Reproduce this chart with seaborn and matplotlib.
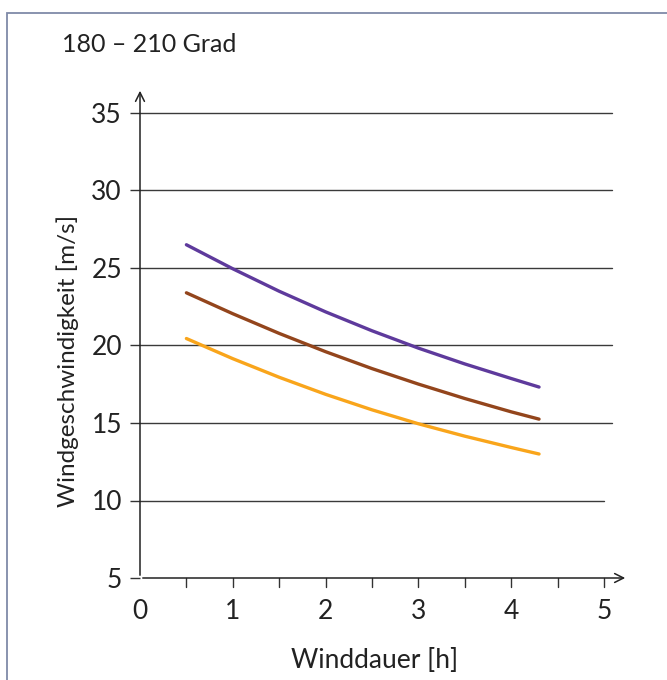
import matplotlib
matplotlib.use("Agg")
import matplotlib.pyplot as plt
import seaborn as sns
import pandas as pd
from matplotlib.patches import Rectangle

# ---- data ----
hours = [0.5, 1.0, 1.5, 2.0, 2.5, 3.0, 3.5, 4.0, 4.3]
purple = [26.5, 24.95, 23.5, 22.17, 20.95, 19.83, 18.81, 17.87, 17.32]
brown = [23.4, 22.05, 20.78, 19.6, 18.51, 17.51, 16.58, 15.72, 15.25]
orange = [20.45, 19.15, 17.95, 16.85, 15.85, 14.95, 14.15, 13.42, 13.0]
series_names = ["violett", "braun", "orange"]
colors = ["#5E3A9C", "#93451C", "#F9A51B"]
y_ticks = [5, 10, 15, 20, 25, 30, 35]
x_ticks = [0, 1, 2, 3, 4, 5]
x_half_ticks = [0.5, 1, 1.5, 2, 2.5, 3, 3.5, 4, 4.5, 5]
title = "180 – 210 Grad"
xlabel = "Winddauer [h]"
ylabel = "Windgeschwindigkeit [m/s]"

df = pd.DataFrame({
    "Winddauer": hours * 3,
    "Wind": purple + brown + orange,
    "Serie": [series_names[0]] * len(hours) + [series_names[1]] * len(hours) + [series_names[2]] * len(hours),
})

sns.set_theme(style="white")
plt.rcParams["font.family"] = ["Lato", "DejaVu Sans"]

W, H = 667, 680
fig = plt.figure(figsize=(W / 100, H / 100), dpi=100)

# frame
fig.patches.append(Rectangle((7 / W, -0.01), 1.0, (H - 13) / H + 0.01, transform=fig.transFigure,
                             fill=False, edgecolor="#7F8AA8", linewidth=1.3))

ax_left, ax_right = 140, 628
ax_bottom, ax_top = 578, 88
ax = fig.add_axes([ax_left / W, (H - ax_bottom) / H, (ax_right - ax_left) / W, (ax_bottom - ax_top) / H])

x0_px, x5_px = 140, 604
y5_px, y35_px = 578, 113
xmax = (ax_right - x0_px) / ((x5_px - x0_px) / 5)
ymax = 5 + (y5_px - ax_top) / ((y5_px - y35_px) / 30)
ax.set_xlim(0, xmax)
ax.set_ylim(5, ymax)

# gridlines
for y in y_ticks[1:]:
    end_px = 604 if y == 10 else 612
    ax.axhline(y, xmin=0, xmax=(end_px - ax_left) / (ax_right - ax_left), color="#3a3a3a", lw=1.0, zorder=1)

sns.lineplot(data=df, x="Winddauer", y="Wind", hue="Serie", palette=colors, linewidth=2.4,
             legend=False, ax=ax, zorder=3)

for s in ["top", "right", "left", "bottom"]:
    ax.spines[s].set_visible(False)
# axis arrows
ax.annotate("", xy=(1, 0), xytext=(0, 0), xycoords="axes fraction",
            arrowprops=dict(arrowstyle="->", color="#222222", lw=1.1, mutation_scale=16))
ax.annotate("", xy=(0, 1), xytext=(0, 0), xycoords="axes fraction",
            arrowprops=dict(arrowstyle="->", color="#222222", lw=1.1, mutation_scale=16))

ax.set_yticks(y_ticks)
ax.set_yticklabels([str(v) for v in y_ticks])
ax.set_xticks(x_ticks)
ax.set_xticklabels([str(v) for v in x_ticks])
ax.tick_params(axis="y", which="major", left=True, length=7, width=1.0, color="#333333",
               labelsize=19, labelcolor="#222222", pad=6)
ax.tick_params(axis="x", which="major", bottom=True, direction="in", length=0, labelsize=19,
               labelcolor="#222222", pad=15)
# x tick marks hanging below the axis at every half hour
for v in x_half_ticks:
    ax.plot([v, v], [0, -0.018], transform=ax.get_xaxis_transform(), color="#333333",
            lw=1.0, clip_on=False)
ax.set_xlabel("")
ax.set_ylabel("")

fig.text(62 / W, 1 - 45 / H, title, fontsize=18, color="#222222", va="center", ha="left")
fig.text(68 / W, 1 - 361 / H, ylabel, fontsize=17.5, color="#222222", rotation=90, va="center", ha="center")
fig.text(375 / W, 1 - 660 / H, xlabel, fontsize=19, color="#222222", va="center", ha="center")

fig.savefig("out.png", dpi=100, facecolor="white")
